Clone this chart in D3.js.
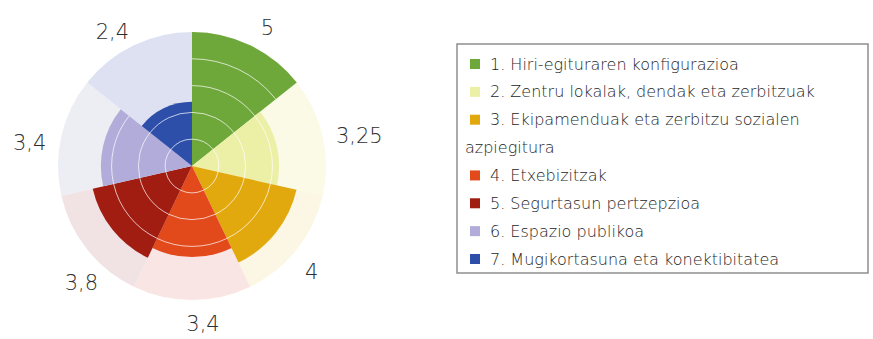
<!DOCTYPE html>
<html>
<head>
<meta charset="utf-8">
<script src="https://cdn.jsdelivr.net/npm/d3@7"></script>
<style>
  html, body { margin: 0; padding: 0; background: #fff; }
  svg { display: block; }
  text { font-family: "DejaVu Sans", sans-serif; }
</style>
</head>
<body>
<svg id="chart" width="873" height="339"></svg>
<script>
// Dimension scores (scale 0–5), one sector each, clockwise from the top
const categories = [
  "1. Hiri-egituraren konfigurazioa",
  "2. Zentru lokalak, dendak eta zerbitzuak",
  "3. Ekipamenduak eta zerbitzu sozialen azpiegitura",
  "4. Etxebizitzak",
  "5. Segurtasun pertzepzioa",
  "6. Espazio publikoa",
  "7. Mugikortasuna eta konektibitatea"
];
const values = [5, 3.25, 4, 3.4, 3.8, 3.4, 2.4];
const valueLabels = ["5", "3,25", "4", "3,4", "3,8", "3,4", "2,4"];
const colors = ["#6ea73a", "#ecefa6", "#e2a90e", "#e2491b", "#a11d12", "#b1acd9", "#2e4fa9"];
const paleColors = ["#e9f1dc", "#fafae6", "#fbf7e4", "#f9e5e3", "#f1e2e4", "#ededf4", "#dee1f1"];
const gridSteps = [1, 2, 3, 4];
const maxValue = 5;

// Legend rows: the third entry wraps onto a second line
const legendLines = [
  { text: "1. Hiri-egituraren konfigurazioa", key: 0 },
  { text: "2. Zentru lokalak, dendak eta zerbitzuak", key: 1 },
  { text: "3. Ekipamenduak eta zerbitzu sozialen", key: 2 },
  { text: "azpiegitura", key: null },
  { text: "4. Etxebizitzak", key: 3 },
  { text: "5. Segurtasun pertzepzioa", key: 4 },
  { text: "6. Espazio publikoa", key: 5 },
  { text: "7. Mugikortasuna eta konektibitatea", key: 6 }
];

const svg = d3.select("#chart");
const cx = 192, cy = 166, R = 134;

const r = d3.scaleLinear().domain([0, maxValue]).range([0, R]);
const angle = d3.scaleBand().domain(d3.range(categories.length)).range([0, 2 * Math.PI]).padding(0);
const start = i => angle(i);
const end = i => angle(i) + angle.bandwidth();

const g = svg.append("g").attr("transform", `translate(${cx},${cy})`);
const arc = d3.arc();

// Pale full-length sectors
g.selectAll("path.bg").data(values).join("path")
  .attr("class", "bg")
  .attr("fill", (d, i) => paleColors[i])
  .attr("d", (d, i) => arc({ innerRadius: 0, outerRadius: r(maxValue), startAngle: start(i), endAngle: end(i) }));

// Value sectors
g.selectAll("path.val").data(values).join("path")
  .attr("class", "val")
  .attr("fill", (d, i) => colors[i])
  .attr("d", (d, i) => arc({ innerRadius: 0, outerRadius: r(d), startAngle: start(i), endAngle: end(i) }));

// White ring gridlines, drawn only across the coloured part of each sector
const gridArcs = [];
values.forEach((v, i) => gridSteps.filter(s => s < v).forEach(s => gridArcs.push({ i, s })));
g.selectAll("path.grid").data(gridArcs).join("path")
  .attr("class", "grid")
  .attr("fill", "none")
  .attr("stroke", "#ffffff")
  .attr("stroke-opacity", 0.7)
  .attr("stroke-width", 1)
  .attr("d", d => {
    const p = d3.path();
    const a0 = start(d.i) - Math.PI / 2, a1 = end(d.i) - Math.PI / 2;
    p.arc(0, 0, r(d.s), a0, a1);
    return p.toString();
  });

// Value labels around the wheel (angle nudge in degrees from the sector middle, radius in px)
const labelNudge = [[3, 157], [2.6, 170], [3, 160], [-4, 158], [-8, 161], [-4.7, 164], [-5, 156]];
g.selectAll("text.val").data(values).join("text")
  .attr("class", "val")
  .attr("x", (d, i) => labelNudge[i][1] * Math.sin((start(i) + end(i)) / 2 + labelNudge[i][0] * Math.PI / 180))
  .attr("y", (d, i) => -labelNudge[i][1] * Math.cos((start(i) + end(i)) / 2 + labelNudge[i][0] * Math.PI / 180))
  .attr("text-anchor", "middle")
  .attr("dominant-baseline", "central")
  .attr("font-size", 21)
  .attr("font-weight", 200)
  .attr("fill", "#2e2e2e")
  .text((d, i) => valueLabels[i]);

// Legend
const lx = 457, ly = 44, lw = 411, lh = 229;
const leg = svg.append("g");
leg.append("rect")
  .attr("x", lx).attr("y", ly).attr("width", lw).attr("height", lh)
  .attr("fill", "#fff").attr("stroke", "#8f8f8f").attr("stroke-width", 1.5);

const rowY = d3.scalePoint().domain(d3.range(legendLines.length)).range([64, 259]);
const rows = leg.selectAll("g.row").data(legendLines).join("g").attr("class", "row")
  .attr("transform", (d, i) => `translate(0,${rowY(i)})`);
rows.filter(d => d.key !== null).append("rect")
  .attr("x", 470).attr("y", -5).attr("width", 10).attr("height", 10)
  .attr("fill", d => colors[d.key]);
rows.append("text")
  .attr("x", d => d.key !== null ? 490 : 465)
  .attr("y", 0)
  .attr("dominant-baseline", "central")
  .attr("font-size", 16)
  .attr("font-weight", 200)
  .attr("fill", "#1e1e1e")
  .text(d => d.text);
</script>
</body>
</html>
